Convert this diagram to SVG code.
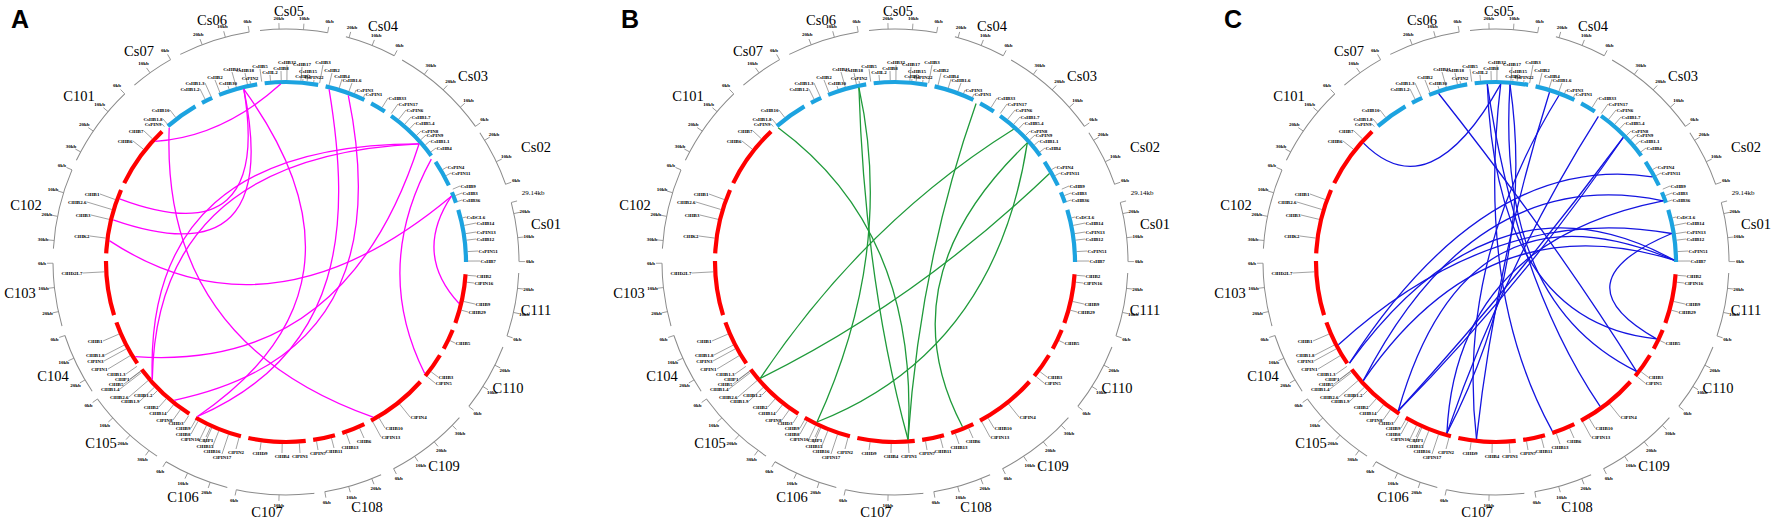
<svg xmlns="http://www.w3.org/2000/svg" xmlns:xlink="http://www.w3.org/1999/xlink" width="1772" height="527" viewBox="0 0 1772 527">
<style>
.o{fill:none;stroke:#8a8a8a;stroke-width:1}
.tk line{stroke:#8a8a8a;stroke-width:0.8}
.tk text{font:bold 5px "Liberation Serif",serif;fill:#000;text-anchor:middle}
.cl{font:14.5px "Liberation Serif",serif;fill:#000;text-anchor:middle}
.gl{font:bold 5px "Liberation Serif",serif;fill:#000}
.s{text-anchor:start}.e{text-anchor:end}.m{text-anchor:middle}
.ld{fill:none;stroke:#555;stroke-width:0.55;stroke-dasharray:0 182 400}
.lk path{fill:none;stroke-width:1.3}
.pl{font:bold 25px "Liberation Sans",Arial,sans-serif;fill:#000}
</style>
<defs>
<g id="ring">
<circle class="o" r="233" pathLength="360" stroke-dasharray="16.7 4.6 12.8 2.2 24.5 1.9 14.2 4.7 14.7 2.8 15.8 2.9 16.9 3.6 20.6 3.4 14.5 2.6 19.3 2.3 16.4 2.6 20.4 2.3 15.3 2.4 15.7 3.6 20 2.6 20.3 3.2 10.9 2.7 17.9 2.7" transform="rotate(-96.4)"/>
<circle r="180" fill="none" stroke="#1ca3e0" stroke-width="4.2" pathLength="360" stroke-dasharray="10.8 2.4 3.6 2.4 12.6 2.4 17.1 2.4 13.1 2.4 5.1 2.4 18.1 2.4 8.6 2.4 3.6 2.4 16.8 229" transform="rotate(229)"/>
<circle r="180" fill="none" stroke="#ff0000" stroke-width="4.2" pathLength="360" stroke-dasharray="15.9 2.4 6.6 2.4 8.1 2.4 20.1 2.4 7.6 2.4 7.1 2.4 18.4 2.4 15.6 2.4 20.8 2.4 14.7 2.4 17.5 2.4 20.9 2.4 20.5 137.4" transform="rotate(3.9)"/>
<g class="tk">
<line y1="-233" y2="-239" transform="rotate(10.3)"/><text dy="1.5" transform="rotate(10.3)translate(0,-244)rotate(-10.3)">0kb</text>
<line y1="-233" y2="-239" transform="rotate(4.3)"/><text dy="1.5" transform="rotate(4.3)translate(0,-244)rotate(-4.3)">10kb</text>
<line y1="-233" y2="-239" transform="rotate(-1.7)"/><text dy="1.5" transform="rotate(-1.7)translate(0,-244)rotate(1.7)">20kb</text>
<line y1="-233" y2="-239" transform="rotate(27.7)"/><text dy="1.5" transform="rotate(27.7)translate(0,-244)rotate(-27.7)">0kb</text>
<line y1="-233" y2="-239" transform="rotate(21.7)"/><text dy="1.5" transform="rotate(21.7)translate(0,-244)rotate(-21.7)">10kb</text>
<line y1="-233" y2="-239" transform="rotate(15.7)"/><text dy="1.5" transform="rotate(15.7)translate(0,-244)rotate(-15.7)">20kb</text>
<line y1="-233" y2="-239" transform="rotate(54.4)"/><text dy="1.5" transform="rotate(54.4)translate(0,-244)rotate(-54.4)">0kb</text>
<line y1="-233" y2="-239" transform="rotate(48.4)"/><text dy="1.5" transform="rotate(48.4)translate(0,-244)rotate(-48.4)">10kb</text>
<line y1="-233" y2="-239" transform="rotate(42.4)"/><text dy="1.5" transform="rotate(42.4)translate(0,-244)rotate(-42.4)">20kb</text>
<line y1="-233" y2="-239" transform="rotate(36.4)"/><text dy="1.5" transform="rotate(36.4)translate(0,-244)rotate(-36.4)">30kb</text>
<line y1="-233" y2="-239" transform="rotate(70.5)"/><text dy="1.5" transform="rotate(70.5)translate(0,-244)rotate(-70.5)">0kb</text>
<line y1="-233" y2="-239" transform="rotate(64.5)"/><text dy="1.5" transform="rotate(64.5)translate(0,-244)rotate(-64.5)">10kb</text>
<line y1="-233" y2="-239" transform="rotate(58.5)"/><text dy="1.5" transform="rotate(58.5)translate(0,-244)rotate(-58.5)">20kb</text>
<line y1="-233" y2="-239" transform="rotate(89.9)"/><text dy="1.5" transform="rotate(89.9)translate(0,-244)rotate(-89.9)">0kb</text>
<line y1="-233" y2="-239" transform="rotate(84)"/><text dy="1.5" transform="rotate(84)translate(0,-244)rotate(-84)">10kb</text>
<line y1="-233" y2="-239" transform="rotate(78)"/><text dy="1.5" transform="rotate(78)translate(0,-244)rotate(-78)">20kb</text>
<line y1="-233" y2="-239" transform="rotate(75.2)"/>
<line y1="-233" y2="-239" transform="rotate(108.5)"/><text dy="1.5" transform="rotate(108.5)translate(0,-244)rotate(-108.5)">0kb</text>
<line y1="-233" y2="-239" transform="rotate(102.5)"/><text dy="1.5" transform="rotate(102.5)translate(0,-244)rotate(-102.5)">10kb</text>
<line y1="-233" y2="-239" transform="rotate(96.5)"/><text dy="1.5" transform="rotate(96.5)translate(0,-244)rotate(-96.5)">20kb</text>
<line y1="-233" y2="-239" transform="rotate(128.3)"/><text dy="1.5" transform="rotate(128.3)translate(0,-244)rotate(-128.3)">0kb</text>
<line y1="-233" y2="-239" transform="rotate(122.3)"/><text dy="1.5" transform="rotate(122.3)translate(0,-244)rotate(-122.3)">10kb</text>
<line y1="-233" y2="-239" transform="rotate(116.3)"/><text dy="1.5" transform="rotate(116.3)translate(0,-244)rotate(-116.3)">20kb</text>
<line y1="-233" y2="-239" transform="rotate(152.5)"/><text dy="1.5" transform="rotate(152.5)translate(0,-244)rotate(-152.5)">0kb</text>
<line y1="-233" y2="-239" transform="rotate(146.5)"/><text dy="1.5" transform="rotate(146.5)translate(0,-244)rotate(-146.5)">10kb</text>
<line y1="-233" y2="-239" transform="rotate(140.5)"/><text dy="1.5" transform="rotate(140.5)translate(0,-244)rotate(-140.5)">20kb</text>
<line y1="-233" y2="-239" transform="rotate(134.5)"/><text dy="1.5" transform="rotate(134.5)translate(0,-244)rotate(-134.5)">30kb</text>
<line y1="-233" y2="-239" transform="rotate(170.4)"/><text dy="1.5" transform="rotate(170.4)translate(0,-244)rotate(-170.4)">0kb</text>
<line y1="-233" y2="-239" transform="rotate(164.4)"/><text dy="1.5" transform="rotate(164.4)translate(0,-244)rotate(-164.4)">10kb</text>
<line y1="-233" y2="-239" transform="rotate(158.4)"/><text dy="1.5" transform="rotate(158.4)translate(0,-244)rotate(-158.4)">20kb</text>
<line y1="-233" y2="-239" transform="rotate(192.3)"/><text dy="1.5" transform="rotate(192.3)translate(0,-244)rotate(-192.3)">0kb</text>
<line y1="-233" y2="-239" transform="rotate(181.7)"/><text dy="1.5" transform="rotate(181.7)translate(0,-244)rotate(-181.7)">10kb</text>
<line y1="-233" y2="-239" transform="rotate(211)"/><text dy="1.5" transform="rotate(211)translate(0,-244)rotate(-211)">0kb</text>
<line y1="-233" y2="-239" transform="rotate(205)"/><text dy="1.5" transform="rotate(205)translate(0,-244)rotate(-205)">10kb</text>
<line y1="-233" y2="-239" transform="rotate(199)"/><text dy="1.5" transform="rotate(199)translate(0,-244)rotate(-199)">20kb</text>
<line y1="-233" y2="-239" transform="rotate(234)"/><text dy="1.5" transform="rotate(234)translate(0,-244)rotate(-234)">0kb</text>
<line y1="-233" y2="-239" transform="rotate(228)"/><text dy="1.5" transform="rotate(228)translate(0,-244)rotate(-228)">10kb</text>
<line y1="-233" y2="-239" transform="rotate(222)"/><text dy="1.5" transform="rotate(222)translate(0,-244)rotate(-222)">20kb</text>
<line y1="-233" y2="-239" transform="rotate(216)"/><text dy="1.5" transform="rotate(216)translate(0,-244)rotate(-216)">30kb</text>
<line y1="-233" y2="-239" transform="rotate(251.6)"/><text dy="1.5" transform="rotate(251.6)translate(0,-244)rotate(-251.6)">0kb</text>
<line y1="-233" y2="-239" transform="rotate(245.6)"/><text dy="1.5" transform="rotate(245.6)translate(0,-244)rotate(-245.6)">10kb</text>
<line y1="-233" y2="-239" transform="rotate(239.6)"/><text dy="1.5" transform="rotate(239.6)translate(0,-244)rotate(-239.6)">20kb</text>
<line y1="-233" y2="-239" transform="rotate(269.7)"/><text dy="1.5" transform="rotate(269.7)translate(0,-244)rotate(-269.7)">0kb</text>
<line y1="-233" y2="-239" transform="rotate(263.7)"/><text dy="1.5" transform="rotate(263.7)translate(0,-244)rotate(-263.7)">10kb</text>
<line y1="-233" y2="-239" transform="rotate(257.7)"/><text dy="1.5" transform="rotate(257.7)translate(0,-244)rotate(-257.7)">20kb</text>
<line y1="-233" y2="-239" transform="rotate(293.3)"/><text dy="1.5" transform="rotate(293.3)translate(0,-244)rotate(-293.3)">0kb</text>
<line y1="-233" y2="-239" transform="rotate(287.3)"/><text dy="1.5" transform="rotate(287.3)translate(0,-244)rotate(-287.3)">10kb</text>
<line y1="-233" y2="-239" transform="rotate(281.3)"/><text dy="1.5" transform="rotate(281.3)translate(0,-244)rotate(-281.3)">20kb</text>
<line y1="-233" y2="-239" transform="rotate(275.3)"/><text dy="1.5" transform="rotate(275.3)translate(0,-244)rotate(-275.3)">30kb</text>
<line y1="-233" y2="-239" transform="rotate(316.2)"/><text dy="1.5" transform="rotate(316.2)translate(0,-244)rotate(-316.2)">0kb</text>
<line y1="-233" y2="-239" transform="rotate(310.2)"/><text dy="1.5" transform="rotate(310.2)translate(0,-244)rotate(-310.2)">10kb</text>
<line y1="-233" y2="-239" transform="rotate(304.2)"/><text dy="1.5" transform="rotate(304.2)translate(0,-244)rotate(-304.2)">20kb</text>
<line y1="-233" y2="-239" transform="rotate(298.2)"/><text dy="1.5" transform="rotate(298.2)translate(0,-244)rotate(-298.2)">30kb</text>
<line y1="-233" y2="-239" transform="rotate(330.3)"/><text dy="1.5" transform="rotate(330.3)translate(0,-244)rotate(-330.3)">0kb</text>
<line y1="-233" y2="-239" transform="rotate(324.3)"/><text dy="1.5" transform="rotate(324.3)translate(0,-244)rotate(-324.3)">10kb</text>
<line y1="-233" y2="-239" transform="rotate(350.9)"/><text dy="1.5" transform="rotate(350.9)translate(0,-244)rotate(-350.9)">0kb</text>
<line y1="-233" y2="-239" transform="rotate(344.9)"/><text dy="1.5" transform="rotate(344.9)translate(0,-244)rotate(-344.9)">10kb</text>
<line y1="-233" y2="-239" transform="rotate(338.9)"/><text dy="1.5" transform="rotate(338.9)translate(0,-244)rotate(-338.9)">20kb</text>
</g>
<text x="247" y="-67" style="font:7px 'Liberation Serif',serif;text-anchor:middle">29.14kb</text>
<g class="cl">
<text x="3" y="-246">Cs05</text><text x="97" y="-231">Cs04</text><text x="187" y="-181">Cs03</text><text x="250" y="-110">Cs02</text><text x="260" y="-33">Cs01</text>
<text x="250" y="53">C111</text><text x="222" y="131">C110</text><text x="158" y="209">C109</text><text x="81" y="250">C108</text><text x="-19" y="255">C107</text>
<text x="-103" y="240">C106</text><text x="-185" y="186">C105</text><text x="-233" y="119">C104</text><text x="-266" y="36">C103</text><text x="-260" y="-52">C102</text>
<text x="-207" y="-161">C101</text><text x="-147" y="-206">Cs07</text><text x="-74" y="-237">Cs06</text>
</g>
<path class="ld" d="M0 0L161 -95M0 0L165 -89M0 0L174 -76M0 0L176 -69M0 0L176 -62M0 0L180 -45M0 0L190 -39M0 0L190 -30M0 0L190 -23M0 0L192 -11M0 0L194 -1M0 0L190 14M0 0L188 21M0 0L189 42M0 0L182 50M0 0L169 81M0 0L152 115M0 0L149 121M0 0L124 155M0 0L99 166M0 0L95 175M0 0L70 -172M0 0L79 -168M0 0L102 -164M0 0L112 -158M0 0L120 -152M0 0L125 -145M0 0L129 -139M0 0L135 -131M0 0L140 -127M0 0L144 -121M0 0L150 -114M0 0L78 176M0 0L64 182M0 0L48 186M0 0L32 188M0 0L14 191M0 0L-4 191M0 0L-26 188M0 0L-50 187M0 0L-64 192M0 0L-74 186M0 0L-81 181M0 0L-80 175M0 0L-86 177M0 0L-95 172M0 0L-95 166M0 0L-102 161M0 0L-113 158M0 0L-119 151M0 0L-127 145M0 0L-133 133M0 0L-146 139M0 0L-157 135M0 0L-166 127M0 0L-162 122M0 0L-156 117M0 0L-160 112M0 0L-178 107M0 0L-182 99M0 0L-181 93M0 0L-183 79M0 0L-203 11M0 0L-196 -26M0 0L-195 -47M0 0L-199 -60M0 0L-186 -68M0 0L-153 -121M0 0L-142 -131M0 0L-124 -138M0 0L-123 -143M0 0L-116 -152M0 0L-86 -173M0 0L-81 -179M0 0L-71 -182M0 0L-58 -176M0 0L-54 -190M0 0L-41 -189M0 0L-36 -181M0 0L-26 -193M0 0L-16 -187M0 0L-5 -191M0 0L1 -197M0 0L16 -195M0 0L17 -183M0 0L22 -188M0 0L28 -182M0 0L37 -197M0 0L46 -189M0 0L56 -183M0 0L66 -179"/>
<g class="gl">
<g class="s">
<text x="161.6" y="-93.3">CsPIN4</text><text x="165.6" y="-87.3">CsPIN11</text><text x="174.6" y="-74.3">CsHB9</text><text x="176.6" y="-67.3">CsHB3</text><text x="176.6" y="-60.3">CsHB36</text><text x="180.6" y="-43.3">CsDCL6</text><text x="190.6" y="-37.3">CsHB14</text><text x="190.6" y="-28.3">CsPIN13</text><text x="190.6" y="-21.3">CsHB12</text><text x="192.6" y="-9.3">CsPIN51</text><text x="194.6" y="0.7">CsHB7</text>
<text x="190.6" y="15.7">ClHB2</text><text x="188.6" y="22.7">ClPIN16</text><text x="189.6" y="43.7">ClHB9</text><text x="182.6" y="51.7">ClHB29</text><text x="169.6" y="82.7">ClHB5</text><text x="152.6" y="116.7">ClHB3</text><text x="149.6" y="122.7">ClPIN5</text><text x="124.6" y="156.7">ClPIN4</text><text x="99.6" y="167.7">ClHB10</text><text x="95.6" y="176.7">ClPIN13</text>
<text x="70.6" y="-170.3">CsPIN3</text><text x="79.6" y="-166.3">CsPIN1</text><text x="102.6" y="-162.3">CsHB33</text><text x="112.6" y="-156.3">CsPIN17</text><text x="120.6" y="-150.3">CsPIN6</text><text x="125.6" y="-143.3">CsHB1.7</text><text x="129.6" y="-137.3">CsHB5.4</text><text x="135.6" y="-129.3">CsPIN8</text><text x="140.6" y="-125.3">CsPIN9</text><text x="144.6" y="-119.3">CsHB1.1</text><text x="150.6" y="-112.3">CsHB4</text>
</g>
<g class="m">
<text x="78" y="180.5">ClHB6</text><text x="64" y="186.5">ClHB13</text><text x="48" y="190.5">ClHB11</text><text x="32" y="192.5">ClPIN7</text><text x="14" y="195.5">ClPIN1</text><text x="-4" y="195.5">ClHB4</text><text x="-26" y="192.5">ClHD9</text><text x="-50" y="191.5">ClPIN2</text><text x="-64" y="196.5">ClPIN17</text><text x="-74" y="190.5">ClHB16</text><text x="-81" y="185.5">ClHB15</text><text x="-80" y="179.5">ClHP1</text>
<text x="-71" y="-182.6">CsHB2</text><text x="-58" y="-176.6">CsHB30</text><text x="-54" y="-190.6">CsHB11</text><text x="-41" y="-189.6">CsHB18</text><text x="-36" y="-181.6">CsPIN2</text><text x="-26" y="-193.6">CsHB5</text><text x="-16" y="-187.6">CsHL2</text><text x="-5" y="-191.6">CsHB8</text><text x="1" y="-197.6">CsHB32</text><text x="16" y="-195.6">CsHB17</text><text x="17" y="-183.6">CsHB1</text><text x="22" y="-188.6">CsHB15</text><text x="28" y="-182.6">CsPIN22</text><text x="37" y="-197.6">CsHB3</text><text x="46" y="-189.6">CsHB2</text><text x="56" y="-183.6">CsHB4</text><text x="66" y="-179.6">CsHB1.6</text>
</g>
<g class="e">
<text x="-86.6" y="178.7">ClPIN10</text><text x="-95.6" y="173.7">ClHB8</text><text x="-95.6" y="167.7">ClHB9</text><text x="-102.6" y="162.7">ClHD3</text><text x="-113.6" y="159.7">ClPIN8</text><text x="-119.6" y="152.7">ClHB14</text><text x="-127.6" y="146.7">ClHB2</text><text x="-133.6" y="134.7">ClHB1.2</text><text x="-146.6" y="140.7">ClHB1.9</text><text x="-157.6" y="136.7">ClHB2.6</text><text x="-166.6" y="128.7">ClHB1.4</text><text x="-162.6" y="123.7">ClHB5</text><text x="-156.6" y="118.7">ClHP1</text><text x="-160.6" y="113.7">ClHB1.3</text><text x="-178.6" y="108.7">ClPIN1</text><text x="-182.6" y="100.7">ClPIN3</text><text x="-181.6" y="94.7">ClHB1.8</text><text x="-183.6" y="80.7">ClHB1</text>
<text x="-203.6" y="12.7">ClHD2L7</text><text x="-196.6" y="-24.3">ClHK2</text><text x="-195.6" y="-45.3">ClHB3</text><text x="-199.6" y="-58.3">ClHB2.6</text><text x="-186.6" y="-66.3">ClHB1</text><text x="-153.6" y="-119.3">ClHB6</text><text x="-142.6" y="-129.3">ClHB7</text><text x="-124.6" y="-136.3">CsPIN9</text><text x="-123.6" y="-141.3">CsHB1.8</text><text x="-116.6" y="-150.3">CsHB10</text><text x="-86.6" y="-171.3">CsHB1.2</text><text x="-81.6" y="-177.3">CsHB1.3</text>
</g>
</g>
</g>
</defs>
<rect width="1772" height="527" fill="#fff"/>
<text class="pl" x="11" y="28">A</text>
<text class="pl" x="621" y="28">B</text>
<text class="pl" x="1224" y="28">C</text>
<g id="panelA" transform="translate(286 262)">
<use xlink:href="#ring" href="#ring"/>
<g id="linksA" class="lk" stroke="#ff00ff">
<path d="M-5.3 -177.9Q-64 -125 -130.8 -120.7"/>
<path d="M-42.2 -172.9Q-14 -6 -166.4 -63.2"/>
<path d="M-42.2 -172.9Q-3 17 -172.9 -42.2"/>
<path d="M-176.7 -21.4Q-15 85 165.4 -65.8"/>
<path d="M133.1 -118.2Q-142 -118 -133.7 117.5"/>
<path d="M133.1 -118.2Q-130 -106 -133.7 117.5"/>
<path d="M-116.8 -134.3Q-125 80 87.1 155.2"/>
<path d="M165.4 -65.8Q127 -8 173.1 41.5"/>
<path d="M145.3 -102.9Q86 6 138.7 111.5"/>
<path d="M-42.2 -172.9Q101 25 -88.5 154.5"/>
<path d="M43.1 -172.7C65 -40 60 90 -88.5 154.5"/>
<path d="M62.3 -166.7C90 -30 70 100 -112 138.3"/>
<path d="M-150.8 94.6Q60 110 133.1 -118.2"/>
</g>
</g>
<g id="panelB" transform="translate(895 262)">
<use xlink:href="#ring" href="#ring"/>
<g id="linksB" class="lk" stroke="#1f9a3a">
<path d="M-116.8 -134.3Q25 -30 13 177.5"/>
<path d="M-36.1 -174.3Q0 -10 -78 160"/>
<path d="M-36.1 -174.3Q-30 20 13 177.5"/>
<path d="M81.1 -158.5Q25 0 13 177.5"/>
<path d="M118.6 -132.7Q-30 -40 -134.7 116.3"/>
<path d="M154.5 -88.5Q20 40 -134.7 116.3"/>
<path d="M132.3 -119.1Q100 90 -78 160"/>
<path d="M132.3 -119.1Q-10 17 67.5 164.7"/>
</g>
</g>
<g id="panelC" transform="translate(1496 262)">
<use xlink:href="#ring" href="#ring"/>
<g id="linksC" class="lk" stroke="#1414e0">
<path d="M-132.5 -118.9Q-66 -52 4.7 -177.9"/>
<path d="M-57.4 -168.5Q60 -20 140.5 109.3"/>
<path d="M-8.7 -177.8Q20 20 104.1 144.4"/>
<path d="M-8.7 -177.8Q0 60 160.5 76.9"/>
<path d="M4.7 -177.9Q-20 30 56.2 168.9"/>
<path d="M14 -177.4Q40 0 -49.1 171.1"/>
<path d="M53.5 -169.8Q0 0 -19.5 176.9"/>
<path d="M102.4 -145.6Q10 0 -49.1 171.1"/>
<path d="M127.2 -124.5Q20 20 -97.7 148.8"/>
<path d="M127.2 -124.5Q24 26 -97.7 148.8"/>
<path d="M156.3 -85.2Q-10 -110 -146.5 101.1"/>
<path d="M167.2 -61.2Q-20 -100 -132.7 118.6"/>
<path d="M175.7 -28.5Q0 -60 -157.6 82.7"/>
<path d="M178 -1.9Q-30 -90 -97.7 148.8"/>
<path d="M178 -1.9Q0 -100 -146.5 101.1"/>
<path d="M175.7 -28.5Q60 20 160.5 76.9"/>
<path d="M-49.1 171.1Q-40 -20 167.2 -61.2"/>
<path d="M-19.5 176.9Q-40 0 62.9 -166.5"/>
<path d="M-132.7 118.6Q-10 -60 178 -1.9"/>
<path d="M14 -177.4Q0 40 140.5 109.3"/>
</g>
</g>
</svg>
